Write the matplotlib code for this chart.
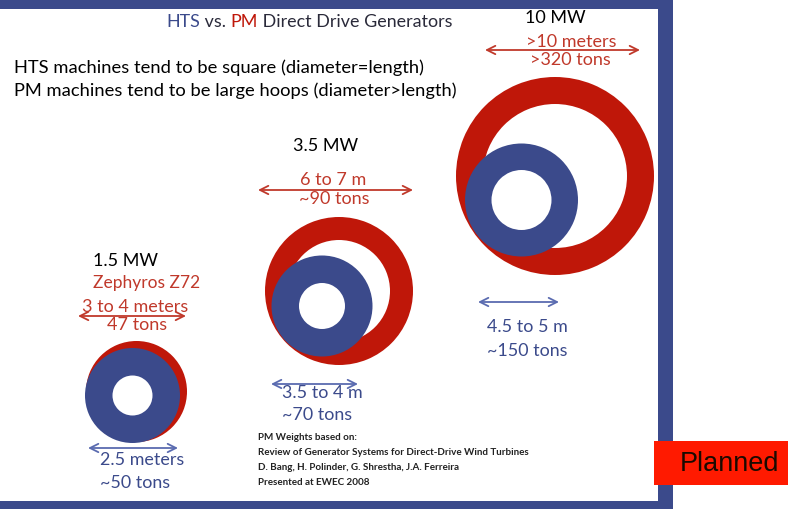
import matplotlib.pyplot as plt
from matplotlib.patches import Wedge, Rectangle

# Generator data (PM = red rings, HTS = blue rings)
ratings = ['1.5 MW', '3.5 MW', '10 MW']
pm_size = ['3 to 4 meters', '6 to 7 m', '>10 meters']
pm_weight = ['47 tons', '~90 tons', '>320 tons']
hts_size = ['2.5 meters', '3.5 to 4 m', '4.5 to 5 m']
hts_weight = ['~50 tons', '~70 tons', '~150 tons']
notes = ['HTS machines tend to be square (diameter=length)',
         'PM machines tend to be large hoops (diameter>length)']
citation = ['PM Weights based on:',
            'Review of Generator Systems for Direct-Drive Wind Turbines',
            'D. Bang, H. Polinder, G. Shrestha, J.A. Ferreira',
            'Presented at EWEC 2008']

# layout in slide pixels
pm_ring = [((136.5, 391.5), 50.5, 20), ((339, 291), 74, 23), ((555, 176), 99, 27)]
hts_ring = [((132.5, 395.5), 47.5, 27.5), ((322, 306), 50.5, 27.5), ((521.5, 200), 56.5, 26.5)]
pm_arrow = [(78, 186, 316), (258, 413, 190), (485, 640, 50)]
hts_arrow = [(88, 178, 448), (271, 358, 384), (478, 559, 302)]

BLUE = '#3b4a8b'
RED = '#bf1709'
RED_TXT = '#c0392b'
BLUE_TXT = '#3b4a8b'
FONT = 'Lato'

fig = plt.figure(figsize=(7.88, 5.09), dpi=100)
ax = fig.add_axes([0, 0, 1, 1])
ax.set_xlim(0, 788)
ax.set_ylim(509, 0)
ax.set_aspect('equal')
ax.axis('off')

# slide frame
ax.add_patch(Rectangle((0, 0), 673, 9, color=BLUE, lw=0))
ax.add_patch(Rectangle((658, 0), 15, 509, color=BLUE, lw=0))
ax.add_patch(Rectangle((0, 501), 673, 8, color=BLUE, lw=0))

# rings
for (c, r, w) in pm_ring:
    ax.add_patch(Wedge(c, r, 0, 360, width=w, color=RED, lw=0))
for (c, r, w) in hts_ring:
    ax.add_patch(Wedge(c, r, 0, 360, width=w, color=BLUE, lw=0))

# arrows
for (x0, x1, y) in pm_arrow:
    ax.annotate('', xy=(x1, y), xytext=(x0, y),
                arrowprops=dict(arrowstyle='<->,head_length=0.6,head_width=0.3',
                                color=RED_TXT, lw=1.3, shrinkA=0, shrinkB=0))
for (x0, x1, y) in hts_arrow:
    ax.annotate('', xy=(x1, y), xytext=(x0, y),
                arrowprops=dict(arrowstyle='<->,head_length=0.6,head_width=0.3',
                                color='#5a6bb0', lw=1.3, shrinkA=0, shrinkB=0))

# title in pieces
t = ax.text(166, 22, 'HTS', color=BLUE_TXT, fontsize=12.9, family=FONT, va='center')
for s, col in [(' vs. ', '#2a2a3a'), ('PM', RED), (' Direct Drive Generators', '#2a2a3a')]:
    t = ax.annotate(s, xy=(1, 0), xycoords=t, va='bottom', color=col,
                    fontsize=12.9, family=FONT)

ax.text(14, 68, notes[0], fontsize=13.2, family=FONT, va='center', color='black')
ax.text(14, 91, notes[1], fontsize=13.2, family=FONT, va='center', color='black')

# ratings
ax.text(93, 261, ratings[0], fontsize=13, family=FONT, va='center')
ax.text(293, 146, ratings[1], fontsize=13, family=FONT, va='center')
ax.text(525, 18, ratings[2], fontsize=13, family=FONT, va='center')
ax.text(93, 283, 'Zephyros Z72', fontsize=12.5, family=FONT, va='center', color=RED_TXT)

# PM labels
pm_pos = [((135, 307), (137, 325)), ((333, 180), (334, 199)), ((571, 42), (570, 60))]
for i in range(3):
    (sx, sy), (wx, wy) = pm_pos[i]
    ax.text(sx, sy, pm_size[i], fontsize=13, family=FONT, ha='center', va='center', color=RED_TXT)
    ax.text(wx, wy, pm_weight[i], fontsize=13, family=FONT, ha='center', va='center', color=RED_TXT)

# HTS labels
hts_pos = [((100, 460), (100, 483)), ((282, 393), (282, 415)), ((487, 327), (487, 351))]
for i in range(3):
    (sx, sy), (wx, wy) = hts_pos[i]
    ax.text(sx, sy, hts_size[i], fontsize=12.9, family=FONT, va='center', color=BLUE_TXT)
    ax.text(wx, wy, hts_weight[i], fontsize=12.9, family=FONT, va='center', color=BLUE_TXT)

# citation
for i, line in enumerate(citation):
    ax.text(258, 437 + i * 15.3, line, fontsize=7.1, family=FONT, weight='bold',
            va='center', color='#222222')

# planned tag
ax.add_patch(Rectangle((654, 441), 134, 44, color='#ff1a00', lw=0))
ax.text(730, 464, 'Planned', fontsize=19.5, family='Liberation Sans', ha='center',
        va='center', color='#1a0a00')

fig.savefig('out.png', dpi=100)
